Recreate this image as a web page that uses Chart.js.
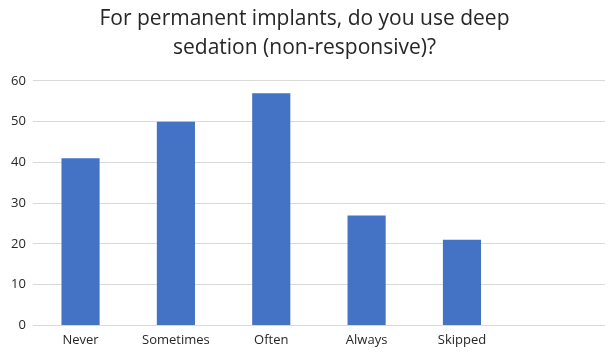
<!DOCTYPE html>
<html>
<head>
<meta charset="utf-8">
<script src="https://cdn.jsdelivr.net/npm/chart.js@4/dist/chart.umd.min.js"></script>
<style>
  html, body { margin: 0; padding: 0; background: #fff; }
  #wrap { width: 613px; height: 358px; }
</style>
</head>
<body>
<div id="wrap"><canvas id="chart" width="613" height="358"></canvas></div>
<script>
// values; last slot is an empty category
const categories = ['Never', 'Sometimes', 'Often', 'Always', 'Skipped', ''];
const responses = [41, 50, 57, 27, 21, null];
const titleLines = ['For permanent implants, do you use deep', 'sedation (non-responsive)?'];

const ctx = document.getElementById('chart').getContext('2d');

new Chart(ctx, {
    type: 'bar',
    data: {
        labels: categories,
        datasets: [
            {
                label: 'Responses',
                data: responses,
                backgroundColor: '#4472c4',
                borderWidth: 0,
                barPercentage: 0.4,
                categoryPercentage: 1,
            }
        ],
    },
    options: {
        responsive: false,
        animation: false,
        layout: {
            padding: { left: 4, right: 8, top: 5, bottom: 3 },
        },
        plugins: {
            legend: { display: false },
            tooltip: { enabled: false },
            title: {
                display: true,
                text: titleLines,
                color: '#262626',
                font: { family: 'Open Sans', size: 21, weight: 'normal', lineHeight: 1.38 },
                padding: { top: 0, bottom: 18 },
            },
        },
        scales: {
            x: {
                grid: { display: false, drawTicks: false },
                border: { display: false },
                ticks: {
                    color: '#262626',
                    font: { family: 'Open Sans', size: 13 },
                    maxRotation: 0,
                    padding: 7,
                },
            },
            y: {
                min: 0,
                max: 60,
                ticks: {
                    stepSize: 10,
                    color: '#262626',
                    font: { family: 'Open Sans', size: 13 },
                    padding: 7,
                },
                grid: {
                    color: '#d9d9d9',
                    lineWidth: 1,
                    drawTicks: false,
                },
                border: { display: false },
            },
        },
    },
});
</script>
</body>
</html>
